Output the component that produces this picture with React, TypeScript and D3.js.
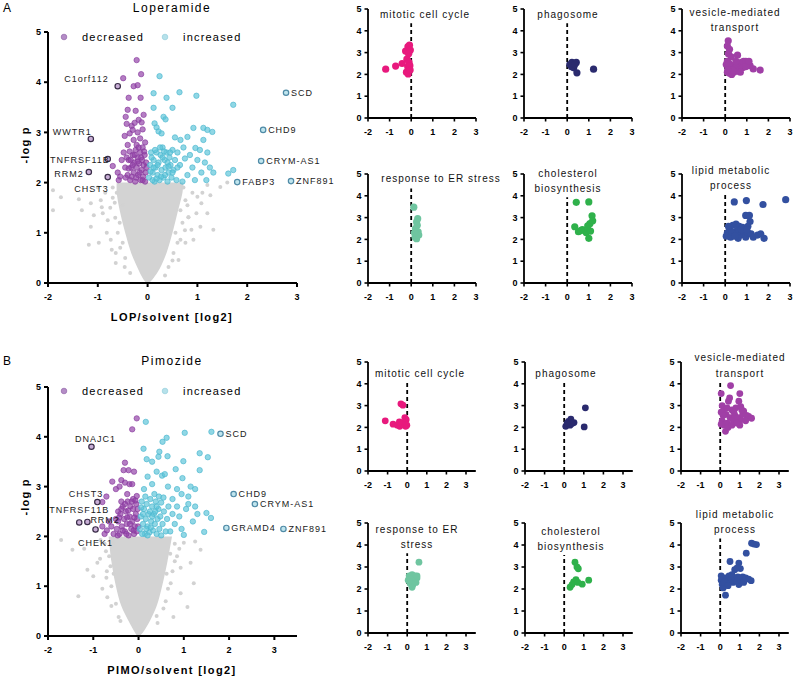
import React from "react";
import * as d3 from "d3";

type Pt = [number, number];
type Lab = [number, number, string];

const FONT = "'Liberation Sans', Arial, Helvetica, sans-serif";

// shared tick values
const xTickValues = [-2, -1, 0, 1, 2, 3];
const yTickValues = [0, 1, 2, 3, 4, 5];

// ---------------- Loperamide volcano ----------------
const lopDecreased: Pt[] = [
  [-0.22, 4.44], [-0.13, 4.16], [-0.49, 4.08], [-0.28, 3.92], [-0.2, 3.94], [-0.38, 3.69], [-0.14, 3.69],
  [-0.4, 3.45], [-0.24, 3.43], [-0.08, 3.35], [-0.18, 3.25], [-0.44, 3.31], [-0.42, 3.17], [-0.32, 3.13],
  [-0.26, 3.19], [-0.12, 3.2], [-0.46, 2.93], [-0.3, 3.05], [-0.2, 3.0], [-0.1, 3.06], [-0.36, 2.98],
  [-0.7, 2.33], [-0.58, 2.05], [-0.55, 2.12], [-0.6, 2.2], [-0.52, 2.45], [-0.48, 2.6], [-0.4, 2.75],
  [-0.28, 2.85], [-0.15, 2.88], [-0.05, 2.8], [-0.22, 2.75], [-0.1, 2.7],
  [-0.45, 2.3], [-0.4, 2.15], [-0.38, 2.45], [-0.35, 2.05], [-0.33, 2.3], [-0.3, 2.55], [-0.28, 2.2],
  [-0.27, 2.4], [-0.25, 2.02], [-0.24, 2.65], [-0.22, 2.3], [-0.2, 2.5], [-0.19, 2.15], [-0.17, 2.38],
  [-0.15, 2.6], [-0.14, 2.05], [-0.12, 2.25], [-0.11, 2.45], [-0.09, 2.12], [-0.08, 2.35], [-0.06, 2.55],
  [-0.05, 2.02], [-0.04, 2.2], [-0.03, 2.4], [-0.36, 2.62], [-0.42, 2.5], [-0.32, 2.12], [-0.18, 2.7],
  [-0.26, 2.55], [-0.13, 2.5], [-0.07, 2.62], [-0.23, 2.1], [-0.3, 2.35], [-0.16, 2.2], [-0.1, 2.05],
  [-0.02, 2.3], [-0.38, 2.28], [-0.44, 2.1], [-0.2, 2.42], [-0.34, 2.45],
];
const lopIncreased: Pt[] = [
  [0.24, 4.12], [0.12, 3.78], [0.64, 3.8], [0.38, 3.69], [0.98, 3.73], [0.12, 3.49], [0.5, 3.49],
  [1.72, 3.55], [0.32, 3.31], [0.36, 3.26], [0.14, 3.18], [0.18, 3.1], [0.22, 3.02], [0.28, 2.98],
  [0.92, 3.09], [1.12, 3.09], [1.2, 3.05], [1.3, 3.01], [0.8, 2.91], [0.66, 2.85], [1.12, 2.85], [0.55, 2.9],
  [0.96, 2.69], [1.05, 2.65], [1.2, 2.6], [0.85, 2.55], [0.75, 2.48], [1.0, 2.45], [1.15, 2.4], [1.25, 2.3],
  [1.32, 2.2], [0.9, 2.3], [1.08, 2.2], [0.8, 2.15], [0.95, 2.05], [1.72, 2.25], [1.62, 2.18], [0.7, 2.02],
  [1.18, 2.05], [0.65, 2.35], [0.6, 2.6], [0.72, 2.7],
  [0.03, 2.1], [0.05, 2.35], [0.07, 2.6], [0.1, 2.2], [0.12, 2.45], [0.14, 2.02], [0.16, 2.3], [0.18, 2.6],
  [0.2, 2.15], [0.22, 2.4], [0.24, 2.05], [0.26, 2.55], [0.28, 2.25], [0.3, 2.7], [0.32, 2.1], [0.34, 2.45],
  [0.36, 2.3], [0.38, 2.6], [0.4, 2.02], [0.42, 2.2], [0.44, 2.5], [0.46, 2.35], [0.48, 2.1], [0.5, 2.65],
  [0.52, 2.25], [0.55, 2.45], [0.58, 2.05], [0.6, 2.3], [0.08, 2.5], [0.15, 2.65], [0.25, 2.7], [0.35, 2.15],
  [0.45, 2.6], [0.2, 2.35], [0.3, 2.5], [0.1, 2.05], [0.4, 2.4], [0.5, 2.2], [0.12, 2.3], [0.27, 2.12],
  [0.06, 2.22], [0.33, 2.62], [0.18, 2.08], [0.42, 2.32],
];
const lopLabeledDown: Lab[] = [
  [-0.6, 3.92, "C1orf112"], [-1.14, 2.87, "WWTR1"], [-0.8, 2.47, "TNFRSF11B"],
  [-1.18, 2.21, "RRM2"], [-0.8, 2.11, "CHST3"],
];
const lopLabeledUp: Lab[] = [
  [2.78, 3.79, "SCD"], [2.32, 3.05, "CHD9"], [2.28, 2.43, "CRYM-AS1"],
  [1.8, 2.01, "FABP3"], [2.88, 2.03, "ZNF891"],
];
const lopGrey: Pt[] = [
  [-1.9, 1.85], [-1.9, 1.45], [-1.74, 1.71], [-1.38, 1.67], [-1.18, 0.76], [-1.14, 1.59], [-0.94, 1.65],
  [-0.9, 1.39], [-0.8, 1.25], [-0.74, 0.86], [-0.62, 1.8], [-0.66, 1.6], [1.32, 1.06], [1.2, 1.39],
  [1.0, 1.72], [1.1, 1.8], [1.26, 1.75], [1.46, 1.91], [0.76, 1.65], [0.82, 1.31], [0.66, 0.86],
  [0.52, 0.6], [1.06, 1.12], [0.92, 0.86], [-0.64, 0.6], [-0.46, 0.32], [0.42, 0.32], [1.6, 2.0],
  [-1.32, 1.45], [-1.14, 1.12], [-1.08, 1.35], [-0.92, 1.51], [-0.98, 0.8], [-0.82, 1.0], [-0.72, 0.66],
  [-0.64, 0.4], [0.62, 0.46], [0.76, 0.8], [0.88, 1.06], [0.98, 1.39], [1.08, 1.59], [0.82, 1.31],
  [-0.56, 1.2], [-0.5, 0.8], [0.56, 1.0], [0.66, 1.45], [0.72, 1.9], [-0.7, 1.9],
  [-0.7, 1.7], [-0.75, 1.5], [-0.6, 1.0], [-0.55, 0.7], [-0.45, 0.5], [-0.35, 0.2], [0.35, 0.15],
  [0.5, 0.45], [0.6, 0.8], [0.7, 1.2], [0.8, 1.55], [0.9, 1.8], [-0.85, 1.8], [-1.0, 1.9], [1.2, 1.95],
  [-0.5, 1.55], [0.75, 1.05], [-0.65, 1.3],
];
const lopCloudY = [0, 0.1, 0.3, 0.6, 1.0, 1.4, 1.8, 2.0];
const lopCloudLeft = [-0.03, -0.1, -0.2, -0.33, -0.45, -0.55, -0.62, -0.62];
const lopCloudRight = [0.03, 0.12, 0.25, 0.38, 0.5, 0.6, 0.7, 0.72];

// ---------------- Pimozide volcano ----------------
const pimDecreased: Pt[] = [
  [-0.04, 4.37], [-0.14, 4.15], [-0.3, 3.48], [-0.33, 3.33], [-0.22, 3.33], [-0.1, 3.3], [-0.38, 3.13],
  [-0.3, 3.08], [-0.2, 3.05], [-0.14, 3.05], [-0.58, 3.1], [-0.5, 2.95], [-0.71, 2.8], [-0.8, 2.69],
  [-0.04, 2.81], [-0.42, 3.0],
  [-0.6, 2.2], [-0.7, 2.12], [-0.8, 2.2], [-0.55, 2.05], [-0.5, 2.35], [-0.45, 2.5], [-0.38, 2.7],
  [-0.25, 2.85], [-0.12, 2.75], [-0.65, 2.3], [-0.75, 2.05],
  [-0.48, 2.15], [-0.45, 2.3], [-0.42, 2.05], [-0.4, 2.45], [-0.37, 2.2], [-0.35, 2.6], [-0.32, 2.35],
  [-0.3, 2.1], [-0.28, 2.5], [-0.26, 2.25], [-0.24, 2.7], [-0.22, 2.02], [-0.2, 2.4], [-0.18, 2.6],
  [-0.16, 2.15], [-0.14, 2.3], [-0.12, 2.55], [-0.1, 2.05], [-0.08, 2.2], [-0.06, 2.45], [-0.05, 2.65],
  [-0.04, 2.1], [-0.03, 2.35], [-0.02, 2.55], [-0.3, 2.65], [-0.15, 2.7], [-0.43, 2.38], [-0.27, 2.05],
  [-0.19, 2.25], [-0.09, 2.38], [-0.35, 2.12], [-0.11, 2.12], [-0.23, 2.52], [-0.38, 2.55], [-0.07, 2.72],
  [-0.25, 2.38], [-0.01, 2.2], [-0.46, 2.02],
];
const pimIncreased: Pt[] = [
  [0.16, 4.3], [1.61, 4.1], [1.02, 4.08], [0.62, 3.98], [0.53, 3.9], [0.11, 3.76], [0.46, 3.7], [0.44, 3.6],
  [0.64, 3.61], [1.35, 3.67], [1.53, 3.59], [0.99, 3.51], [0.18, 3.55], [0.3, 3.5], [0.82, 3.35], [1.35, 3.33],
  [0.4, 3.3], [0.52, 3.22], [0.58, 3.25], [0.97, 3.17], [0.2, 3.2], [0.3, 3.05], [0.12, 2.95], [0.65, 3.0],
  [0.85, 2.95], [1.15, 3.0], [1.25, 2.95], [0.95, 2.85], [1.1, 2.8], [0.75, 2.75],
  [1.5, 2.47], [1.6, 2.37], [1.45, 2.09], [1.0, 2.03], [1.2, 2.3], [1.3, 2.45], [0.9, 2.4], [1.05, 2.55],
  [0.8, 2.25], [0.95, 2.15], [1.1, 2.65], [0.7, 2.1], [1.25, 2.6], [0.85, 2.6], [0.75, 2.45],
  [0.03, 2.15], [0.05, 2.4], [0.07, 2.7], [0.1, 2.25], [0.12, 2.55], [0.14, 2.05], [0.16, 2.35], [0.18, 2.65],
  [0.2, 2.2], [0.22, 2.45], [0.24, 2.08], [0.26, 2.75], [0.28, 2.3], [0.3, 2.6], [0.32, 2.12], [0.34, 2.45],
  [0.36, 2.25], [0.38, 2.7], [0.4, 2.05], [0.42, 2.35], [0.44, 2.55], [0.46, 2.15], [0.48, 2.4], [0.5, 2.68],
  [0.53, 2.25], [0.56, 2.5], [0.6, 2.1], [0.63, 2.35], [0.66, 2.6], [0.08, 2.05], [0.15, 2.8], [0.25, 2.5],
  [0.35, 2.85], [0.45, 2.8], [0.2, 2.02], [0.3, 2.4], [0.1, 2.45], [0.4, 2.6], [0.5, 2.02], [0.55, 2.78],
  [0.06, 2.58], [0.17, 2.15], [0.27, 2.18], [0.37, 2.5],
];
const pimLabeledDown: Lab[] = [
  [-1.04, 3.8, "DNAJC1"], [-0.91, 2.69, "CHST3"], [-1.31, 2.28, "TNFRSF11B"],
  [-1.13, 2.29, "RRM2"], [-0.95, 2.14, "CHEK1"],
];
const pimLabeledUp: Lab[] = [
  [1.81, 4.06, "SCD"], [2.1, 2.85, "CHD9"], [2.57, 2.65, "CRYM-AS1"],
  [1.94, 2.17, "GRAMD4"], [3.2, 2.15, "ZNF891"],
];
const pimGrey: Pt[] = [
  [-1.71, 1.93], [-1.46, 1.73], [-1.33, 0.8], [-1.13, 1.33], [-0.91, 1.47], [-0.85, 1.55], [-0.71, 1.17],
  [-0.69, 0.78], [1.0, 1.87], [1.15, 1.47], [1.22, 1.06], [1.08, 0.58], [0.93, 0.86], [0.77, 0.38],
  [1.37, 1.73], [0.93, 1.37], [0.71, 1.06], [-0.44, 0.38], [0.42, 0.26], [-0.84, 1.93], [-0.55, 1.87],
  [-1.0, 1.2], [-0.8, 0.95], [-0.62, 1.4], [0.6, 0.7], [0.85, 1.6], [1.25, 1.9], [0.8, 1.85], [-0.6, 0.6],
  [-1.2, 1.75], [0.62, 1.25], [-0.72, 1.7],
  [-0.75, 1.85], [-0.7, 1.3], [-0.6, 1.0], [-0.5, 0.65], [-0.4, 0.3], [0.4, 0.4], [0.55, 0.55],
  [0.65, 0.95], [0.75, 1.3], [0.8, 1.5], [0.9, 1.75], [-0.65, 1.6], [0.7, 1.65], [-0.55, 1.25],
];
const pimCloudY = [0, 0.1, 0.3, 0.6, 1.0, 1.5, 2.0];
const pimCloudLeft = [-0.03, -0.1, -0.22, -0.38, -0.5, -0.6, -0.66];
const pimCloudRight = [0.03, 0.12, 0.25, 0.4, 0.52, 0.64, 0.74];

// ---------------- small GO-term panels ----------------
const termNames = [
  ["mitotic cell cycle"], ["phagosome"], ["vesicle-mediated", "transport"],
  ["response to ER stress"], ["cholesterol", "biosynthesis"], ["lipid metabolic", "process"],
];
const termNamesB = [
  ["mitotic cell cycle"], ["phagosome"], ["vesicle-mediated", "transport"],
  ["response to ER", "stress"], ["cholesterol", "biosynthesis"], ["lipid metabolic", "process"],
];
const termColors = ["#e8197d", "#2a2a6e", "#a03fa6", "#6fc5a0", "#2fb14b", "#3350a0"];

const lopMitotic: Pt[] = [
  [-1.18, 2.24], [-0.72, 2.38], [-0.42, 2.5], [-0.26, 3.07], [-0.15, 3.27], [-0.08, 3.34], [-0.04, 3.12],
  [-0.12, 2.95], [-0.2, 2.7], [-0.1, 2.55], [-0.16, 2.35], [-0.06, 2.4], [-0.22, 2.1], [-0.14, 2.02], [-0.05, 2.2],
];
const lopPhagosome: Pt[] = [
  [0.12, 2.45], [0.22, 2.55], [0.42, 2.55], [0.3, 2.3], [0.45, 2.07], [1.22, 2.24], [0.2, 2.35], [0.35, 2.45],
];
const lopVesicle: Pt[] = [
  [0.14, 3.54], [0.1, 3.3], [0.2, 3.15], [0.15, 2.95], [0.28, 2.8], [0.57, 2.88], [0.1, 2.6], [0.05, 2.45],
  [0.1, 2.1], [0.2, 2.05], [0.3, 2.0], [0.4, 2.1], [0.25, 2.3], [0.35, 2.4], [0.45, 2.25], [0.55, 2.35],
  [0.65, 2.5], [0.75, 2.55], [0.85, 2.6], [0.95, 2.6], [1.05, 2.55], [1.15, 2.4], [1.3, 2.25], [1.62, 2.2],
  [0.5, 2.6], [0.18, 2.5], [0.6, 2.15], [0.8, 2.3], [0.95, 2.35], [1.1, 2.6], [0.7, 2.1], [0.35, 2.2], [0.12, 2.2],
];
const lopErStress: Pt[] = [
  [0.12, 3.48], [0.3, 2.95], [0.25, 2.8], [0.28, 2.65], [0.2, 2.5], [0.32, 2.35], [0.22, 2.25], [0.35, 2.2],
  [0.18, 2.1], [0.25, 2.03], [0.15, 2.3],
];
const lopCholesterol: Pt[] = [
  [0.42, 3.7], [1.0, 3.72], [1.15, 3.08], [1.05, 2.72], [1.18, 2.85], [0.35, 2.58], [0.52, 2.35], [0.7, 2.45],
  [0.88, 2.32], [1.0, 2.05], [1.08, 2.38], [0.95, 2.62], [0.62, 2.4],
];
const lopLipid: Pt[] = [
  [0.42, 3.72], [0.98, 3.78], [1.75, 3.6], [2.8, 3.82], [0.95, 3.1], [1.12, 3.1], [1.15, 2.82], [1.05, 2.6],
  [0.2, 2.5], [0.35, 2.65], [0.5, 2.7], [0.65, 2.6], [0.8, 2.55], [0.1, 2.3], [0.05, 2.15], [0.25, 2.1],
  [0.4, 2.3], [0.55, 2.4], [0.7, 2.2], [0.85, 2.35], [0.95, 2.1], [1.05, 2.3], [1.2, 2.25], [1.3, 2.1],
  [1.5, 2.2], [1.65, 2.25], [1.8, 2.05], [0.6, 2.05], [0.3, 2.35], [0.75, 2.45], [0.45, 2.15], [1.0, 2.45], [0.15, 2.6],
];

const pimMitotic: Pt[] = [
  [-1.12, 2.3], [-0.72, 2.15], [-0.32, 3.08], [-0.22, 3.02], [-0.5, 2.1], [-0.38, 2.05], [-0.28, 2.2],
  [-0.12, 2.45], [-0.05, 2.35], [-0.15, 2.2], [-0.08, 2.05], [-0.2, 2.12], [-0.4, 2.25], [-0.02, 2.1],
];
const pimPhagosome: Pt[] = [
  [0.08, 2.05], [0.22, 2.28], [0.34, 2.38], [0.5, 2.22], [0.3, 2.1], [0.4, 2.18], [0.15, 2.2], [1.08, 2.9], [1.02, 2.02],
];
const pimVesicle: Pt[] = [
  [0.53, 3.92], [0.05, 3.55], [0.48, 3.35], [0.42, 3.2], [1.0, 3.55], [0.95, 3.2], [0.1, 3.0], [0.2, 2.85],
  [0.05, 2.7], [0.3, 2.6], [0.6, 2.8], [0.8, 2.9], [1.05, 2.95], [1.2, 2.75], [1.35, 2.55], [1.45, 2.5],
  [1.6, 2.42], [0.1, 2.3], [0.05, 2.15], [0.2, 2.1], [0.35, 2.2], [0.5, 2.45], [0.65, 2.35], [0.75, 2.55],
  [0.9, 2.45], [1.05, 2.35], [1.15, 2.6], [1.3, 2.3], [1.0, 2.1], [0.27, 1.82], [0.4, 2.0], [0.6, 2.1],
  [0.15, 2.55], [0.7, 2.7], [0.85, 2.2], [1.1, 2.8], [0.35, 2.9],
];
const pimErStress: Pt[] = [
  [0.6, 3.22], [0.1, 2.6], [0.25, 2.65], [0.4, 2.6], [0.5, 2.5], [0.05, 2.4], [0.2, 2.45], [0.35, 2.4],
  [0.45, 2.3], [0.15, 2.25], [0.3, 2.2], [0.25, 2.08], [0.12, 2.35], [0.5, 2.6],
];
const pimCholesterol: Pt[] = [
  [0.55, 3.22], [0.65, 3.0], [0.72, 2.92], [1.25, 2.4], [0.92, 2.22], [0.6, 2.42], [0.48, 2.32], [0.3, 2.08],
  [0.4, 2.2], [0.7, 2.3],
];
const pimLipid: Pt[] = [
  [1.6, 4.08], [1.72, 4.04], [1.85, 4.02], [1.33, 3.63], [0.5, 3.25], [0.95, 3.18], [1.03, 2.93], [0.74, 2.88],
  [0.85, 2.95], [0.27, 1.72], [1.58, 2.38], [0.05, 2.4], [0.1, 2.2], [0.15, 2.05], [0.25, 2.5], [0.35, 2.35],
  [0.45, 2.6], [0.55, 2.45], [0.65, 2.3], [0.75, 2.5], [0.85, 2.35], [0.95, 2.2], [1.05, 2.4], [1.15, 2.55],
  [1.3, 2.5], [1.45, 2.45], [0.2, 2.3], [0.4, 2.15], [0.6, 2.65], [0.9, 2.55], [1.2, 2.3], [0.05, 2.6],
];

const lopTerms = [lopMitotic, lopPhagosome, lopVesicle, lopErStress, lopCholesterol, lopLipid];
const pimTerms = [pimMitotic, pimPhagosome, pimVesicle, pimErStress, pimCholesterol, pimLipid];

// ---------------- layout (pixels) ----------------
const labelOffsetsA: Record<string, [number, number, string]> = {
  C1orf112: [-9, -4, "end"], WWTR1: [1, -4, "end"], TNFRSF11B: [2, 4, "end"],
  RRM2: [-5, 5, "end"], CHST3: [1, 15, "end"],
  SCD: [5, 3, "start"], CHD9: [5, 3, "start"], "CRYM-AS1": [5, 3, "start"], FABP3: [5, 3, "start"], ZNF891: [5, 3, "start"],
};
const labelOffsetsB: Record<string, [number, number, string]> = {
  DNAJC1: [4, -5, "middle"], CHST3: [6, -5, "end"], TNFRSF11B: [0, -9, "middle"],
  RRM2: [3, 1, "start"], CHEK1: [0, 17, "middle"],
  SCD: [5, 3, "start"], CHD9: [5, 3, "start"], "CRYM-AS1": [5, 3, "start"], GRAMD4: [5, 3, "start"], ZNF891: [5, 3, "start"],
};

// row layouts for small panels
const panelRows = [
  { y0: 118, y5: 9, unit: 21.6, xMax: 3, lefts: [368, 524, 682] },
  { y0: 283, y5: 174, unit: 21.6, xMax: 3, lefts: [368, 524, 682] },
  { y0: 471, y5: 362, unit: 19.6, xMax: 3.5, lefts: [368, 525, 681] },
  { y0: 633, y5: 523, unit: 19.6, xMax: 3.5, lefts: [368, 525, 681] },
];
// title centre x offset from panel left, title line centre y (absolute)
const titleLayout = [
  [[57, [14]], [44, [14]], [53, [12, 27]]],
  [[73, [178]], [44, [173, 188]], [49, [170, 185]]],
  [[52, [373]], [41, [373]], [59, [357, 373]]],
  [[49, [529, 544]], [46, [531, 546]], [54, [514, 529]]],
] as [number, number[]][][];
const dashTops = [[4.35, 4.35, 3.4], [4.34, 3.93, 4.04], [4.04, 4.04, 4.04], [3.63, 3.55, 4.3]];

interface VolcanoProps {
  xDomain: [number, number];
  yTop: number;
  yBottom: number;
  letter: string;
  title: string;
  titleY: number;
  xTitle: string;
  xTitleY: number;
  yTitleY: number;
  legendY: number;
  decreased: Pt[];
  increased: Pt[];
  labDown: Lab[];
  labUp: Lab[];
  grey: Pt[];
  cloudY: number[];
  cloudL: number[];
  cloudR: number[];
  offsets: Record<string, [number, number, string]>;
}

function Volcano(p: VolcanoProps) {
  const x = d3.scaleLinear().domain(p.xDomain).range([48, 297]);
  const y = d3.scaleLinear().domain([0, 5]).range([p.yBottom, p.yTop]);
  const cloud = p.cloudY.map((v, i) => ({ y: v, l: p.cloudL[i], r: p.cloudR[i] }));
  const area = d3
    .area<{ y: number; l: number; r: number }>()
    .y((d) => y(d.y))
    .x0((d) => x(d.l))
    .x1((d) => x(d.r))
    .curve(d3.curveCatmullRom);
  const label = (d: Lab, key: string) => {
    const o = p.offsets[d[2]];
    return (
      <text key={key} x={x(d[0]) + o[0]} y={y(d[1]) + o[1]} textAnchor={o[2] as any}
        fontSize={9} letterSpacing={1} fill="#1a1a1a">{d[2]}</text>
    );
  };
  return (
    <g fontFamily={FONT}>
      <text x={3} y={p.titleY} fontSize={12}>{p.letter}</text>
      <text x={172} y={p.titleY} fontSize={12} letterSpacing={1.5} textAnchor="middle">{p.title}</text>
      <path d={area(cloud) || ""} fill="#d3d3d3" />
      {p.grey.map((d, i) => (
        <circle key={"g" + i} cx={x(d[0])} cy={y(d[1])} r={2} fill="#d2d2d2" />
      ))}
      {p.decreased.map((d, i) => (
        <circle key={"d" + i} cx={x(d[0])} cy={y(d[1])} r={2.7} fill="#9040a6" fillOpacity={0.68}
          stroke="#8a3d9e" strokeOpacity={0.85} strokeWidth={0.8} />
      ))}
      {p.increased.map((d, i) => (
        <circle key={"u" + i} cx={x(d[0])} cy={y(d[1])} r={2.7} fill="#5cc4d8" fillOpacity={0.68}
          stroke="#4db8cf" strokeOpacity={0.85} strokeWidth={0.8} />
      ))}
      {p.labDown.map((d, i) => (
        <circle key={"ld" + i} cx={x(d[0])} cy={y(d[1])} r={2.7} fill="#c8aed6" stroke="#3a2d48" strokeWidth={1.2} />
      ))}
      {p.labUp.map((d, i) => (
        <circle key={"lu" + i} cx={x(d[0])} cy={y(d[1])} r={2.7} fill="#bfe5ee" stroke="#4f8aa6" strokeWidth={1.2} />
      ))}
      {p.labDown.map((d, i) => label(d, "tD" + i))}
      {p.labUp.map((d, i) => label(d, "tU" + i))}
      {/* axes */}
      <line x1={48} x2={48} y1={y(0)} y2={y(5)} stroke="#000" strokeWidth={2} />
      <line x1={48} x2={x(p.xDomain[1])} y1={y(0)} y2={y(0)} stroke="#000" strokeWidth={2} />
      {yTickValues.map((t) => (
        <g key={"yt" + t}>
          <line x1={44} x2={48} y1={y(t)} y2={y(t)} stroke="#000" strokeWidth={2} />
          <text x={41} y={y(t) + 3.2} fontSize={9} fontWeight="bold" textAnchor="end">{t}</text>
        </g>
      ))}
      {xTickValues.map((t) => (
        <g key={"xt" + t}>
          <line x1={x(t)} x2={x(t)} y1={y(0)} y2={y(0) + 4} stroke="#000" strokeWidth={2} />
          <text x={x(t)} y={y(0) + 17} fontSize={9} fontWeight="bold" textAnchor="middle">{t}</text>
        </g>
      ))}
      <text x={172} y={p.xTitleY} fontSize={11} fontWeight="bold" letterSpacing={1.4} textAnchor="middle">{p.xTitle}</text>
      <text transform={`translate(29,${p.yTitleY}) rotate(-90)`} fontSize={11} fontWeight="bold" letterSpacing={1.2}
        textAnchor="middle">-log p</text>
      {/* legend */}
      <circle cx={64} cy={p.legendY} r={2.8} fill="#b48cc6" stroke="#9a70b0" strokeWidth={0.8} />
      <text x={82} y={p.legendY + 4} fontSize={11} letterSpacing={1.2}>decreased</text>
      <circle cx={165} cy={p.legendY} r={2.8} fill="#b6e1ea" stroke="#9dd3df" strokeWidth={0.8} />
      <text x={183} y={p.legendY + 4} fontSize={11} letterSpacing={1.2}>increased</text>
    </g>
  );
}

function TermPanel(props: {
  left: number; y0: number; y5: number; unit: number; xMax: number;
  data: Pt[]; color: string; names: string[]; titleDx: number; titleYs: number[]; dashTop: number;
}) {
  const { left, y0, y5, unit, xMax, data, color, names, titleDx, titleYs, dashTop } = props;
  const x = d3.scaleLinear().domain([-2, xMax]).range([left, left + (xMax + 2) * unit]);
  const y = d3.scaleLinear().domain([0, 5]).range([y0, y5]);
  const r = unit > 20 ? 3.6 : 3.4;
  return (
    <g fontFamily={FONT}>
      {names.map((n, i) => (
        <text key={n} x={left + titleDx} y={titleYs[i] + 3.6} fontSize={10} letterSpacing={1}
          textAnchor="middle" fill="#111">{n}</text>
      ))}
      <line x1={x(0)} x2={x(0)} y1={y(0)} y2={y(dashTop)} stroke="#000" strokeWidth={1.8} strokeDasharray="4,3" />
      {data.map((d, i) => (
        <circle key={i} cx={x(d[0])} cy={y(d[1])} r={r} fill={color} />
      ))}
      <line x1={left} x2={left} y1={y(0)} y2={y(5)} stroke="#000" strokeWidth={1.8} />
      <line x1={left} x2={x(xMax)} y1={y(0)} y2={y(0)} stroke="#000" strokeWidth={1.8} />
      {yTickValues.map((t) => (
        <g key={"y" + t}>
          <line x1={left - 3.5} x2={left} y1={y(t)} y2={y(t)} stroke="#000" strokeWidth={1.6} />
          <text x={left - 6.5} y={y(t) + 3.2} fontSize={9} fontWeight="bold" textAnchor="end">{t}</text>
        </g>
      ))}
      {xTickValues.map((t) => (
        <g key={"x" + t}>
          <line x1={x(t)} x2={x(t)} y1={y(0)} y2={y(0) + 3.5} stroke="#000" strokeWidth={1.6} />
          <text x={x(t)} y={y(0) + 17} fontSize={9} fontWeight="bold" textAnchor="middle">{t}</text>
        </g>
      ))}
    </g>
  );
}

export default function App() {
  const panels: React.ReactNode[] = [];
  panelRows.forEach((row, ri) => {
    row.lefts.forEach((left, ci) => {
      const idx = (ri % 2) * 3 + ci;
      const data = ri < 2 ? lopTerms[idx] : pimTerms[idx];
      const names = ri < 2 ? termNames[idx] : termNamesB[idx];
      const tl = titleLayout[ri][ci];
      panels.push(
        <TermPanel key={ri + "-" + ci} left={left} y0={row.y0} y5={row.y5} unit={row.unit} xMax={row.xMax}
          data={data} color={termColors[idx]} names={names} titleDx={tl[0]} titleYs={tl[1]}
          dashTop={dashTops[ri][ci]} />
      );
    });
  });
  return (
    <svg width={800} height={677} style={{ position: "absolute", left: 0, top: 0, background: "#fff" }}>
      <rect width={800} height={677} fill="#fff" />
      <Volcano xDomain={[-2, 3]} yTop={32} yBottom={283} letter="A" title="Loperamide" titleY={12}
        xTitle="LOP/solvent [log2]" xTitleY={321} yTitleY={145} legendY={37}
        decreased={lopDecreased} increased={lopIncreased} labDown={lopLabeledDown} labUp={lopLabeledUp}
        grey={lopGrey} cloudY={lopCloudY} cloudL={lopCloudLeft} cloudR={lopCloudRight} offsets={labelOffsetsA} />
      <Volcano xDomain={[-2, 3.5]} yTop={387} yBottom={636} letter="B" title="Pimozide" titleY={365}
        xTitle="PIMO/solvent [log2]" xTitleY={674} yTitleY={497} legendY={391}
        decreased={pimDecreased} increased={pimIncreased} labDown={pimLabeledDown} labUp={pimLabeledUp}
        grey={pimGrey} cloudY={pimCloudY} cloudL={pimCloudLeft} cloudR={pimCloudRight} offsets={labelOffsetsB} />
      {panels}
    </svg>
  );
}
